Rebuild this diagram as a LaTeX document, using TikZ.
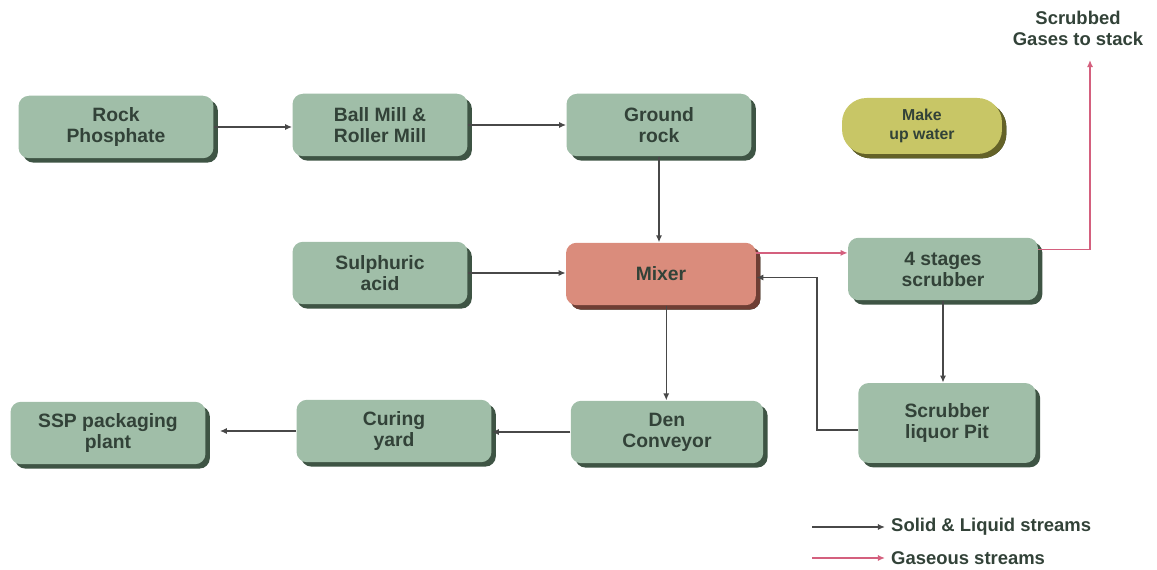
\documentclass[tikz,border=0pt]{standalone}
\usepackage{fontspec}
\setmainfont{Liberation Sans}
\usetikzlibrary{arrows.meta,shadows}
\definecolor{boxgreen}{RGB}{160,190,168}
\definecolor{shadegreen}{RGB}{62,84,68}
\definecolor{txtgreen}{RGB}{50,66,56}
\definecolor{mixred}{RGB}{218,140,124}
\definecolor{shadered}{RGB}{110,62,52}
\definecolor{waterolive}{RGB}{200,198,102}
\definecolor{shadeolive}{RGB}{100,98,40}
\definecolor{gasred}{RGB}{212,96,126}
\definecolor{flowgray}{RGB}{72,72,72}

\begin{document}
\begin{tikzpicture}[x=0.02cm,y=-0.02cm,
		box/.style={fill=boxgreen, rounded corners=6pt, text=txtgreen,
			font=\bfseries\fontsize{11}{12}\selectfont, align=center,
			minimum width=3.7cm, minimum height=1.25cm,
			drop shadow={shadow xshift=2.5pt, shadow yshift=-2.5pt, fill=shadegreen, opacity=1}},
		flow/.style={draw=flowgray, line width=0.8pt, -{Latex[length=4pt,width=3.5pt]}},
		gas/.style={draw=gasred, line width=0.8pt, -{Latex[length=4pt,width=3.5pt]}},
		legend/.style={text=txtgreen, font=\bfseries\fontsize{10.5}{12}\selectfont, anchor=west}]
	\useasboundingbox (0,0) rectangle (1157,570);
	\node[box, minimum width=3.9cm] (rock) at (116,127) {Rock\\Phosphate};
	\node[box, minimum width=3.5cm] (mill) at (380,125) {Ball Mill \&\\Roller Mill};
	\node[box] (ground) at (659,125) {Ground\\rock};
	\node[box, fill=waterolive, rounded corners=14pt, minimum width=3.2cm, minimum height=1.12cm,
		font=\bfseries\fontsize{9}{11}\selectfont,
		drop shadow={shadow xshift=2.5pt, shadow yshift=-2.5pt, fill=shadeolive, opacity=1}] (water) at (922,126) {Make\\up water};
	\node[box, minimum width=3.5cm] (acid) at (380,273) {Sulphuric\\acid};
	\node[box, fill=mixred, minimum width=3.8cm,
		drop shadow={shadow xshift=2.5pt, shadow yshift=-2.5pt, fill=shadered, opacity=1}] (mixer) at (661,274) {Mixer};
	\node[box, minimum width=3.8cm] (scrub) at (943,269) {4 stages\\scrubber};
	\node[box, minimum width=3.55cm, minimum height=1.6cm] (pit) at (947,423) {Scrubber\\liquor Pit};
	\node[box, minimum width=3.85cm] (den) at (667,432) {Den\\Conveyor};
	\node[box, minimum width=3.9cm] (curing) at (394,431) {Curing\\yard};
	\node[box, minimum width=3.9cm] (ssp) at (108,433) {SSP packaging\\plant};
	\node[text=txtgreen, font=\bfseries\fontsize{10.5}{12}\selectfont, align=center] (stacktxt) at (1078,28) {Scrubbed\\Gases to stack};
	\coordinate (stack) at (1090,60);
	\coordinate (ret) at (817,430);
	\draw[flow] (rock.east) to (rock.east -| mill.west);
	\draw[flow] (mill) to (ground);
	\draw[flow] (ground.south) to (ground.south |- mixer.north);
	\draw[flow] (acid.east) to (acid.east -| mixer.west);
	\draw[flow] ([xshift=3pt]mixer.south) to ([xshift=3pt]mixer.south |- den.north);
	\draw[flow] (den.west) to (den.west -| curing.east);
	\draw[flow] (curing.west) to ([xshift=8pt]curing.west -| ssp.east);
	\draw[flow] (scrub.south) to (scrub.south |- pit.north);
	\draw[flow] (pit.west |- ret) -- (ret) |- ([yshift=-2pt]mixer.east);
	\draw[gas] ([yshift=12pt]mixer.east) to ([yshift=12pt]mixer.east -| scrub.west);
	\draw[gas] ([yshift=11pt]scrub.east) -| (stack);
	\node[legend] (solid) at (885,527) {Solid \& Liquid streams};
	\node[legend] (gases) at (885,558) {Gaseous streams};
	\coordinate (solidstart) at (812,527);
	\coordinate (gasstart) at (812,558);
	\draw[flow] (solidstart) -- (solid.west);
	\draw[gas] (gasstart) -- (gases.west);
\end{tikzpicture}
\end{document}
